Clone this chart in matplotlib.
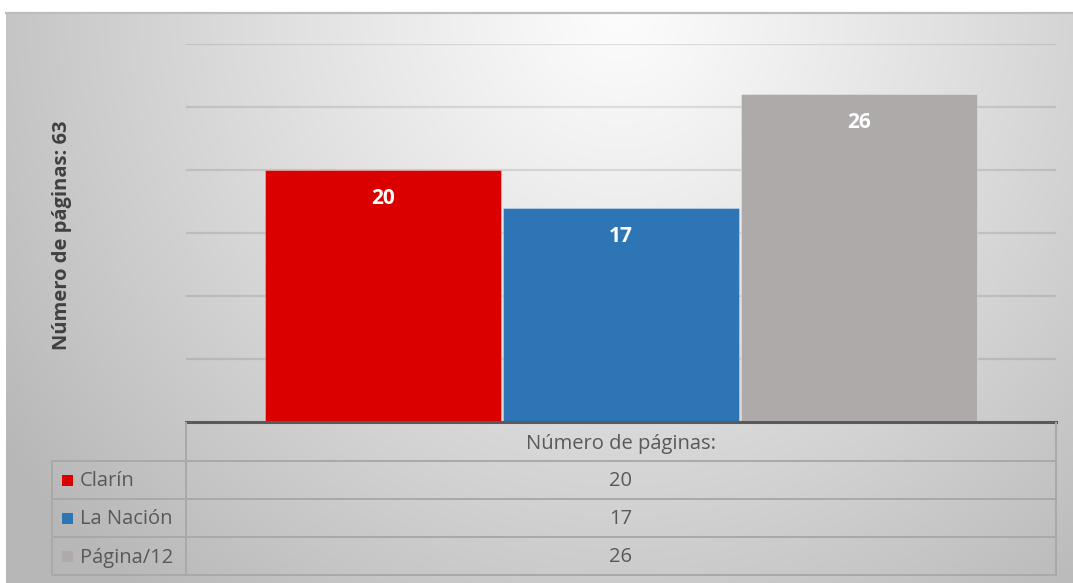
import numpy as np
import matplotlib
matplotlib.use("Agg")
import matplotlib.pyplot as plt
from matplotlib.patches import Rectangle

# ---- data ----
series = ["Clarín", "La Nación", "Página/12"]
values = [20, 17, 26]
colors = ["#DA0000", "#2E75B6", "#AEAAAA"]
category = "Número de páginas:"
y_title = "Número de páginas: 63"
y_max = 30
grid_step = 5

W, H = 1073, 583
FONT = ["Open Sans", "DejaVu Sans"]
TXT = "#595959"
FS = 14.5

fig = plt.figure(figsize=(W / 100, H / 100), dpi=100)
fig.patch.set_facecolor("white")

# ---- background radial gradient panel ----
bg = fig.add_axes([0, 0, 1, 1])
bg.set_xlim(0, W)
bg.set_ylim(H, 0)
bg.axis("off")
xs = np.arange(6, W + 1)
ys = np.arange(14, H + 1)
X, Y = np.meshgrid(xs, ys)
r = np.sqrt(((X - 620) / 620.0) ** 2 + ((Y - 10) / 640.0) ** 2)
v = 0.99 - 0.22 * np.clip(r, 0, 1.2) ** 1.1
img = np.dstack([v, v, v])
bg.imshow(img, extent=(6, W, H, 14), aspect="auto", interpolation="bilinear", zorder=0)
bg.plot([6, W], [13, 13], color="#bdbdbd", lw=1.6, zorder=1)

# ---- plot axes ----
L, R, T, B = 186, 1056, 44, 422
ax = fig.add_axes([L / W, (H - B) / H, (R - L) / W, (B - T) / H])
ax.patch.set_alpha(0)
ax.set_ylim(0, y_max)
ax.set_xlim(-0.83, len(series) - 1 + 0.83)
for s in ax.spines.values():
    s.set_visible(False)
ax.set_xticks([])
ax.set_yticks(np.arange(grid_step, y_max + 1, grid_step))
ax.tick_params(axis="y", length=0, labelleft=False)
ax.grid(axis="y", color="black", alpha=0.1, lw=1.6)
ax.set_axisbelow(True)

xpos = np.arange(len(series))
bars = ax.bar(xpos, values, width=0.992, color=colors, edgecolor=(1, 1, 1, 0.35), lw=0.6, zorder=2)
for x, val in zip(xpos, values):
    ax.annotate(str(val), (x, val), xytext=(0, -20.5), textcoords="offset points",
                ha="center", va="center", color="white", fontsize=15,
                fontweight="bold", family=FONT, zorder=3)
ax.axhline(0, color="#5a5a5a", lw=2.2, zorder=4, clip_on=False)

# ---- y title ----
fig.text(62 / W, (H - 235) / H, y_title, rotation=90, ha="center", va="center",
         fontsize=14.5, fontweight="bold", color="#404040", family=FONT)

# ---- data table ----
ov = fig.add_axes([0, 0, 1, 1])
ov.set_xlim(0, W)
ov.set_ylim(H, 0)
ov.axis("off")
ov.patch.set_alpha(0)
lc = "#a9a9a9"
rows_y = [424, 461, 499, 537, 575]
x_leg, x_col, x_right = 52, 186, 1056
lw = 1.4
ov.plot([x_col, x_col], [423, rows_y[-1]], color=lc, lw=lw)
ov.plot([x_right, x_right], [423, rows_y[-1]], color=lc, lw=lw)
ov.plot([x_leg, x_leg], [rows_y[1], rows_y[-1]], color=lc, lw=lw)
for i, yy in enumerate(rows_y[1:]):
    ov.plot([x_leg, x_right], [yy, yy], color=lc, lw=lw)
xc = (x_col + x_right) / 2
dy = 1.5
ov.text(xc, (rows_y[0] + rows_y[1]) / 2 + dy, category, ha="center", va="center",
        fontsize=FS, color=TXT, family=FONT)
for i, (name, val, c) in enumerate(zip(series, values, colors)):
    yc = (rows_y[i + 1] + rows_y[i + 2]) / 2
    ov.add_patch(Rectangle((62, yc - 5.5), 11, 11, facecolor=c, edgecolor="none"))
    ov.text(80, yc + dy, name, ha="left", va="center", fontsize=FS, color=TXT, family=FONT)
    ov.text(xc, yc + dy, str(val), ha="center", va="center", fontsize=FS, color=TXT, family=FONT)

fig.savefig("out.png", dpi=100)
